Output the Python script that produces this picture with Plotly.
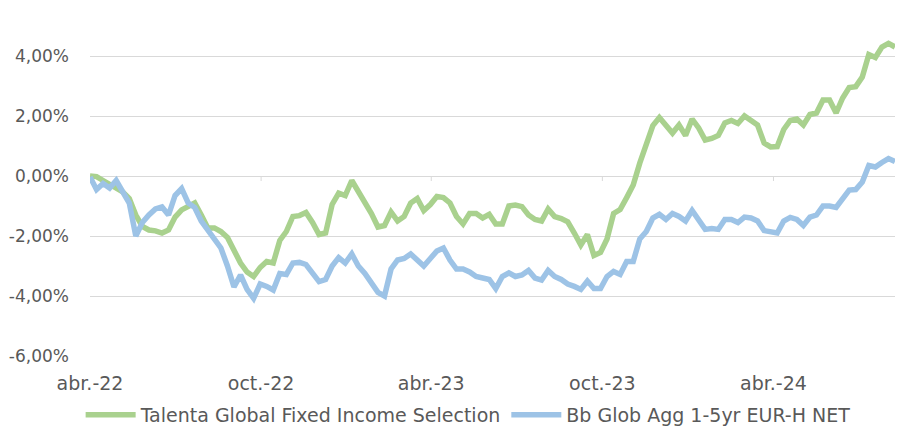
import pandas as pd
import plotly.graph_objects as go

# Weekly observation dates (Fridays) from abr.-22 to ago.-24
dates = pd.date_range("2022-04-01", periods=124, freq="7D")

series_names = ["Talenta Global Fixed Income Selection", "Bb Glob Agg 1-5yr EUR-H NET"]

# Cumulative return, in percent
talenta = [
    0.0, -0.02, -0.15, -0.27, -0.43, -0.53, -0.75, -1.3, -1.68, -1.8,
    -1.83, -1.9, -1.8, -1.37, -1.13, -1.02, -0.9, -1.3, -1.73, -1.73,
    -1.85, -2.05, -2.5, -2.9, -3.2, -3.35, -3.05, -2.85, -2.9, -2.15,
    -1.85, -1.35, -1.32, -1.22, -1.55, -1.95, -1.9, -0.95, -0.57, -0.65,
    -0.15, -0.5, -0.9, -1.25, -1.7, -1.65, -1.2, -1.5, -1.35, -0.9,
    -0.75, -1.15, -0.95, -0.68, -0.72, -0.9, -1.35, -1.6, -1.25, -1.25,
    -1.4, -1.28, -1.6, -1.6, -1.0, -0.97, -1.02, -1.3, -1.45, -1.5,
    -1.1, -1.35, -1.42, -1.53, -1.9, -2.3, -1.95, -2.65, -2.55, -2.1,
    -1.25, -1.12, -0.72, -0.3, 0.43, 1.0, 1.68, 1.95, 1.7, 1.43,
    1.7, 1.35, 1.9, 1.6, 1.2, 1.25, 1.35, 1.77, 1.85, 1.75,
    2.0, 1.85, 1.7, 1.1, 0.97, 0.98, 1.55, 1.85, 1.9, 1.7,
    2.05, 2.1, 2.53, 2.53, 2.1, 2.6, 2.95, 2.98, 3.3, 4.05,
    3.95, 4.3, 4.42, 4.3,
]

bbg = [
    -0.03, -0.45, -0.25, -0.4, -0.15, -0.5, -0.9, -2.0, -1.55, -1.3,
    -1.1, -1.03, -1.3, -0.65, -0.42, -0.9, -1.05, -1.5, -1.8, -2.07,
    -2.4, -3.0, -3.7, -3.3, -3.78, -4.08, -3.6, -3.68, -3.8, -3.25,
    -3.28, -2.9, -2.88, -2.95, -3.2, -3.52, -3.45, -3.0, -2.72, -2.9,
    -2.6, -3.0, -3.25, -3.6, -3.88, -4.0, -3.1, -2.8, -2.75, -2.6,
    -2.78, -3.0, -2.75, -2.5, -2.4, -2.8, -3.1, -3.1, -3.2, -3.35,
    -3.4, -3.45, -3.75, -3.35, -3.23, -3.35, -3.3, -3.15, -3.4, -3.47,
    -3.15, -3.35, -3.45, -3.6, -3.68, -3.78, -3.5, -3.75, -3.75, -3.35,
    -3.18, -3.28, -2.85, -2.85, -2.1, -1.85, -1.4, -1.28, -1.45, -1.25,
    -1.35, -1.5, -1.15, -1.5, -1.78, -1.75, -1.78, -1.45, -1.45, -1.55,
    -1.37, -1.4, -1.5, -1.82, -1.85, -1.9, -1.5, -1.38, -1.45, -1.65,
    -1.37, -1.3, -1.0, -1.0, -1.05, -0.72, -0.47, -0.45, -0.2, 0.35,
    0.3, 0.45, 0.58, 0.48,
]

x_tick_vals = ["2022-04-01", "2022-10-01", "2023-04-01", "2023-10-01", "2024-04-01"]
x_tick_text = ["abr.-22", "oct.-22", "abr.-23", "oct.-23", "abr.-24"]
y_tick_vals = [-6, -4, -2, 0, 2, 4]
y_tick_text = ["-6,00%", "-4,00%", "-2,00%", "0,00%", "2,00%", "4,00%"]
x_range = ["2022-04-01", "2024-08-09"]
y_range = [-6, 5]

GREEN = "#A9D18E"
BLUE = "#9DC3E6"
TEXT = "#595959"
GRID = "#D9D9D9"
FONT = "DejaVu Sans"

fig = go.Figure()
fig.add_trace(go.Scatter(x=dates, y=talenta, mode="lines", name=series_names[0],
                         line=dict(color=GREEN, width=5.5)))
fig.add_trace(go.Scatter(x=dates, y=bbg, mode="lines", name=series_names[1],
                         line=dict(color=BLUE, width=5.5)))

# short tick marks on the horizontal (0 %) axis
shapes = [dict(type="line", xref="x", x0=d, x1=d, yref="y", ysizemode="pixel",
               yanchor=0, y0=0, y1=-5, line=dict(color=GRID, width=1), layer="below")
          for d in x_tick_vals[1:]]

# The page body keeps its default 8 px margin, so the figure is 8 px smaller
# and its left/top margins are 8 px smaller to land on the same pixels.
fig.update_layout(
    template="none",
    width=904, height=435,
    margin=dict(l=82, r=17, t=18, b=87, autoexpand=False),
    paper_bgcolor="white", plot_bgcolor="white",
    font=dict(family=FONT, size=17, color=TEXT),
    showlegend=True,
    legend=dict(orientation="h", xref="container", yref="container",
                x=0.509, xanchor="center", y=0.0644, yanchor="middle",
                font=dict(size=19, color=TEXT), itemwidth=50,
                bgcolor="rgba(0,0,0,0)", tracegroupgap=0),
    xaxis=dict(type="date", range=x_range, tickvals=x_tick_vals, ticktext=x_tick_text,
               showgrid=False, zeroline=False, showline=False, ticks="", automargin=False,
               ticklabelstandoff=14, tickfont=dict(size=19, color=TEXT)),
    yaxis=dict(range=y_range, tickvals=y_tick_vals, ticktext=y_tick_text,
               showgrid=True, gridcolor=GRID, gridwidth=1, zeroline=False,
               showline=False, ticks="", ticklabelstandoff=20, automargin=False,
               tickfont=dict(size=17, color=TEXT)),
    shapes=shapes,
)

fig.write_html("out.html", config={"displayModeBar": False})
